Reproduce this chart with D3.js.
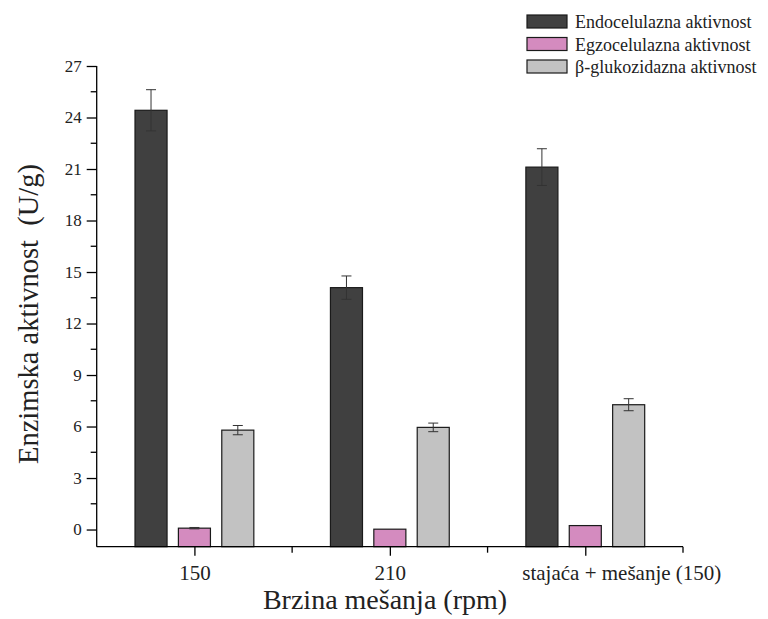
<!DOCTYPE html>
<html>
<head>
<meta charset="utf-8">
<script src="https://cdn.jsdelivr.net/npm/d3@7"></script>
<style>
  body { margin: 0; background: #fff; }
  svg text { font-family: "Liberation Serif", "Times New Roman", serif; fill: #222; }
</style>
</head>
<body>
<svg id="chart" width="768" height="619"></svg>
<script>
var categories = ['150', '210', 'stajaća + mešanje (150)'];
var seriesNames = ['Endocelulazna aktivnost', 'Egzocelulazna aktivnost', 'β-glukozidazna aktivnost'];
var seriesColors = ['#404040', '#d48bbf', '#c2c2c2'];
var endoValues = [24.42, 14.09, 21.11];
var endoErrors = [1.2, 0.68, 1.07];
var egzoValues = [0.08, 0.02, 0.23];
var egzoErrors = [0.04, 0, 0];
var betaValues = [5.79, 5.95, 7.27];
var betaErrors = [0.27, 0.25, 0.35];
var yTicks = [0, 3, 6, 9, 12, 15, 18, 21, 24, 27];

var values = [endoValues, egzoValues, betaValues];
var errors = [endoErrors, egzoErrors, betaErrors];

var svg = d3.select('#chart');
var plotLeft = 96.7, plotRight = 683, plotTop = 66, plotBottom = 546.7;

// categories sit at 1,2,3 on a 0.5..3.5 domain
var x = d3.scaleLinear().domain([0.5, 3.5]).range([plotLeft, plotRight]);
var y = d3.scaleLinear().domain([-1, 27]).range([plotBottom, plotTop]);
var barW = 0.164, offset = 0.222;

var g = svg.append('g');

for (var s = 0; s < 3; s++) {
    var vals = values[s];
    var errs = errors[s];
    var shift = (s - 1) * offset;
    g.selectAll('.bar' + s).data(vals).enter().append('rect')
        .attr('class', 'bar' + s)
        .attr('x', function(d, i) { return x(i + 1 + shift - barW / 2); })
        .attr('width', x(barW) - x(0))
        .attr('y', function(d) { return y(d); })
        .attr('height', function(d) { return y(-1) - y(d); })
        .attr('fill', seriesColors[s])
        .attr('stroke', '#1a1a1a')
        .attr('stroke-width', 1.2);
    vals.forEach(function(d, i) {
        var e = errs[i];
        if (!(e > 0)) return;
        var xc = x(i + 1 + shift);
        var eg = g.append('g').attr('stroke', '#333').attr('stroke-width', 1);
        eg.append('line').attr('x1', xc).attr('x2', xc).attr('y1', y(d - e)).attr('y2', y(d + e));
        eg.append('line').attr('x1', xc - 5).attr('x2', xc + 5).attr('y1', y(d + e)).attr('y2', y(d + e));
        eg.append('line').attr('x1', xc - 5).attr('x2', xc + 5).attr('y1', y(d - e)).attr('y2', y(d - e));
    });
}

// y axis
var yAxis = d3.axisLeft(y).tickValues(yTicks).tickSize(10).tickPadding(5);
var ya = svg.append('g').attr('transform', 'translate(' + plotLeft + ',0)').call(yAxis);
ya.select('.domain').attr('d', 'M0,' + plotTop + 'V' + plotBottom);
var yMinor = d3.range(1.5, 27, 3);
ya.selectAll('.minor').data(yMinor).enter().append('line').attr('class', 'minor')
    .attr('x1', -6).attr('x2', 0).attr('y1', function(d) { return y(d); }).attr('y2', function(d) { return y(d); })
    .attr('stroke', '#000').attr('stroke-width', 1.3);
ya.selectAll('.tick text').attr('font-size', 17);

// x axis
var xAxis = d3.axisBottom(x).tickValues([1, 2, 3]).tickFormat(function(d) { return categories[d - 1]; })
    .tickSize(9).tickPadding(9);
var xa = svg.append('g').attr('transform', 'translate(0,' + plotBottom + ')').call(xAxis);
xa.select('.domain').attr('d', 'M' + plotLeft + ',0H' + plotRight);
xa.selectAll('.minor').data([1.5, 2.5, 3.5]).enter().append('line').attr('class', 'minor')
    .attr('x1', function(d) { return x(d); }).attr('x2', function(d) { return x(d); })
    .attr('y1', 0).attr('y2', 6).attr('stroke', '#000').attr('stroke-width', 1.3);
xa.selectAll('.tick text').attr('font-size', 21)
    .attr('dx', function(d) { return d === 3 ? 36 : 0; });

svg.selectAll('.domain, .tick line').attr('stroke', '#000').attr('stroke-width', 1.3);
svg.selectAll('.tick text').attr('fill', '#222')
    .style('font-family', '"Liberation Serif", serif');

// axis titles
svg.append('text').attr('transform', 'translate(38,314) rotate(-90)')
    .attr('text-anchor', 'middle').attr('font-size', 28.5)
    .text('Enzimska aktivnost\u00a0\u00a0(U/g)');
svg.append('text').attr('x', 385).attr('y', 609)
    .attr('text-anchor', 'middle').attr('font-size', 28)
    .text('Brzina mešanja (rpm)');

// legend
var lg = svg.append('g').attr('transform', 'translate(527,15)');
var items = lg.selectAll('g').data(seriesNames).enter().append('g')
    .attr('transform', function(d, i) { return 'translate(0,' + (i * 22.5) + ')'; });
items.append('rect').attr('width', 40).attr('height', 13)
    .attr('fill', function(d, i) { return seriesColors[i]; })
    .attr('stroke', '#1a1a1a').attr('stroke-width', 1.2);
items.append('text').attr('x', 48).attr('y', 13).attr('font-size', 18).text(function(d) { return d; });
</script>
</body>
</html>
